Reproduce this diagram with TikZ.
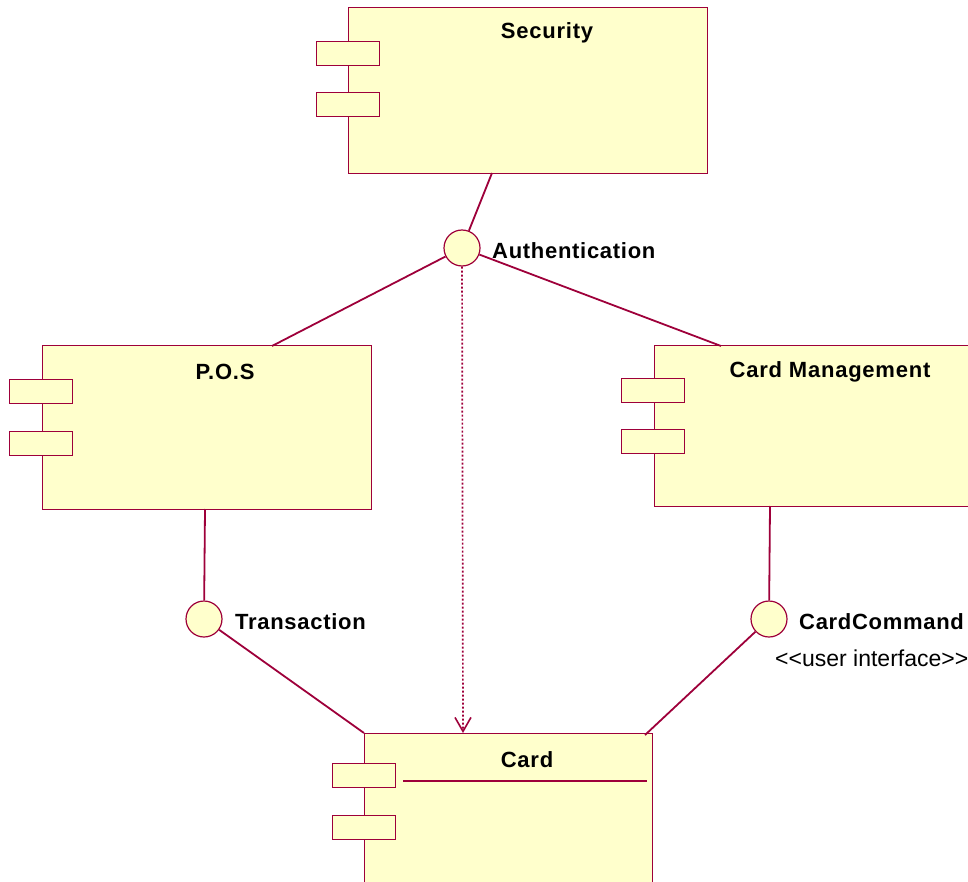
\documentclass[tikz,border=0pt]{standalone}
\usepackage{fontspec}
\setmainfont{Liberation Sans}
\usetikzlibrary{arrows.meta}
\definecolor{umlline}{RGB}{158,0,58}
\definecolor{umlfill}{RGB}{255,255,204}
\begin{document}
\begin{tikzpicture}[x=1pt,y=-1pt,
  comp/.style={draw=umlline, fill=umlfill, line width=1.4pt, anchor=north west, inner sep=0pt},
  port/.style={draw=umlline, fill=umlfill, line width=1.4pt, minimum width=63pt, minimum height=24pt, anchor=north west, inner sep=0pt},
  iface/.style={circle, draw=umlline, fill=umlfill, line width=1.2pt, minimum size=36pt, inner sep=0pt},
  ctitle/.style={font=\bfseries\fontsize{22}{26}\selectfont\addfontfeature{LetterSpace=3.5}},
  ilabel/.style={anchor=west, inner sep=0pt, font=\bfseries\fontsize{22}{26}\selectfont\addfontfeature{LetterSpace=3.2}},
  stereo/.style={anchor=west, inner sep=0pt, font=\fontsize{23}{27}\selectfont},
  conn/.style={draw=umlline, line width=1.8pt},
  dep/.style={draw=umlline, line width=1.7pt, dash pattern=on 2pt off 2pt, -{Straight Barb[length=14pt,width=16pt,line width=1.6pt]}},
]
\useasboundingbox (0,0) rectangle (968,882);
\clip (0,0) rectangle (968,882);

% Security component
\node[comp, minimum width=359pt, minimum height=166pt] (sec) at (348,7) {};
\node[port] (secp1) at (316,41) {};
\node[port] (secp2) at (316,92) {};
\node[ctitle] (sect) at (547,33) {Security};

% P.O.S component
\node[comp, minimum width=329pt, minimum height=164pt] (pos) at (42,345) {};
\node[port] (posp1) at (9,379) {};
\node[port] (posp2) at (9,431) {};
\node[ctitle] (post) at (225,372) {P.O.S};

% Card Management component
\node[comp, minimum width=340pt, minimum height=161pt] (cm) at (654,345) {};
\node[port] (cmp1) at (621,378) {};
\node[port] (cmp2) at (621,429) {};
\node[ctitle] (cmt) at (830,372) {Card Management};

% Card component
\node[comp, minimum width=288pt, minimum height=180pt] (card) at (364,733) {};
\node[port] (cardp1) at (332,763) {};
\node[port] (cardp2) at (332,815) {};
\node[ctitle] (cardt) at (527,760) {Card};
\coordinate (cardsepL) at (403,781);
\coordinate (cardsepR) at (647,781);
\draw[umlline, line width=1.2pt] (cardsepL) -- (cardsepR);

% Interfaces
\node[iface] (auth) at (462,248) {};
\node[ilabel] (authl) at (492,251) {Authentication};
\node[iface] (trans) at (204,619) {};
\node[ilabel] (transl) at (235,622) {Transaction};
\node[iface] (cmd) at (769,619) {};
\node[ilabel] (cmdl) at (799,622) {CardCommand};
\node[stereo] (cmds) at (775,658) {<{}<user interface>{}>};

% Attachment points on component borders
\coordinate (secB) at (492,173);
\coordinate (posT) at (272,346);
\coordinate (posB) at (205,509);
\coordinate (cmT) at (721,346);
\coordinate (cmB) at (770,506);
\coordinate (cardTL) at (364,733);
\coordinate (cardTR) at (645,735);
\coordinate (cardTM) at (463,733);

% Connectors
\draw[conn] (secB) -- (auth);
\draw[conn] (auth) -- (posT);
\draw[conn] (auth) -- (cmT);
\draw[conn] (posB) -- (trans);
\draw[conn] (cmB) -- (cmd);
\draw[conn] (trans) -- (cardTL);
\draw[conn] (cmd) -- (cardTR);
\draw[dep] (auth) -- (cardTM);
\end{tikzpicture}
\end{document}
